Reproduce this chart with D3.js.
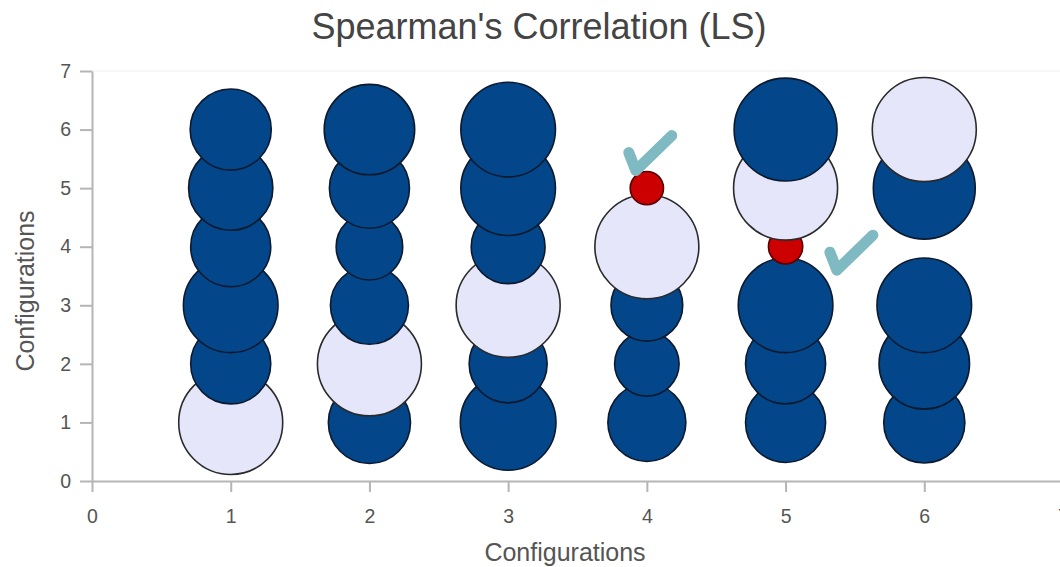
<!DOCTYPE html>
<html>
<head>
<meta charset="utf-8">
<script src="https://cdn.jsdelivr.net/npm/d3@7"></script>
<style>
  html, body { margin: 0; padding: 0; background: #fff; }
  svg { display: block; font-family: "Liberation Sans", Arial, sans-serif; }
</style>
</head>
<body>
<svg id="chart" width="1060" height="567"></svg>
<script>
// ---- data ----
const title = "Spearman's Correlation (LS)";
const xLabel = "Configurations";
const yLabel = "Configurations";
const xTicks = [0, 1, 2, 3, 4, 5, 6, 7];
const yTicks = [0, 1, 2, 3, 4, 5, 6, 7];

// bubble positions (config vs config), size value and kind
const bubbleX    = [1,1,1,1,1,1, 2,2,2,2,2,2, 3,3,3,3,3,3, 4,4,4,4,4, 5,5,5,5,5,5, 6,6,6,6,6];
const bubbleY    = [1,2,3,4,5,6, 1,2,3,4,5,6, 1,2,3,4,5,6, 1,2,3,4,5, 1,2,3,4,5,6, 1,2,3,5,6];
const bubbleSize = [1.00,0.77,0.91,0.77,0.81,0.78,
                    0.79,1.00,0.75,0.64,0.77,0.87,
                    0.92,0.75,1.00,0.71,0.91,0.91,
                    0.75,0.62,0.69,1.00,0.32,
                    0.77,0.77,0.91,0.33,1.00,0.99,
                    0.78,0.87,0.91,0.98,1.00];
const bubbleKind = ["diag","pos","pos","pos","pos","pos",
                    "pos","diag","pos","pos","pos","pos",
                    "pos","pos","diag","pos","pos","pos",
                    "pos","pos","pos","diag","neg",
                    "pos","pos","pos","neg","diag","pos",
                    "pos","pos","pos","pos","diag"];

// check-mark annotations (anchor in data units)
const checkX = [3.92, 5.37];
const checkY = [5.30, 3.60];

// ---- layout ----
const svg = d3.select("#chart");
const x = d3.scaleLinear().domain([0, 7]).range([92, 1063]);
const y = d3.scaleLinear().domain([0, 7]).range([481, 71]);
const r = d3.scaleLinear().domain([0, 1]).range([0, 52]);

const fillColor = { diag: "#e6e6fa", pos: "#03468a", neg: "#cc0000" };
const strokeColor = { diag: "#2a2a2a", pos: "#0d1a2e", neg: "#5a0000" };

// top frame line
svg.append("line")
  .attr("x1", x(0)).attr("x2", x(7))
  .attr("y1", y(7)).attr("y2", y(7))
  .attr("stroke", "#eeeeee").attr("stroke-width", 1);

// axes
const xAxis = svg.append("g")
  .attr("transform", `translate(0,${y(0)})`)
  .call(d3.axisBottom(x).tickValues(xTicks).tickFormat(d3.format("d")).tickSize(11).tickSizeOuter(0));
const yAxis = svg.append("g")
  .attr("transform", `translate(${x(0)},0)`)
  .call(d3.axisLeft(y).tickValues(yTicks).tickFormat(d3.format("d")).tickSize(12).tickSizeOuter(0));

[xAxis, yAxis].forEach(g => {
  g.attr("font-size", null).attr("font-family", null);
  g.select(".domain").attr("stroke", "#b5b5b5").attr("stroke-width", 2);
  g.selectAll(".tick line").attr("stroke", "#b5b5b5").attr("stroke-width", 2);
  g.selectAll(".tick text")
    .attr("fill", "#555")
    .style("font-size", "19.5px")
    .style("font-family", "'Liberation Sans', Arial, sans-serif");
});
xAxis.selectAll(".tick text").attr("dy", "0.71em").attr("y", 28);
yAxis.selectAll(".tick text").attr("x", -21);

// bubbles
const bubbles = bubbleX.map((bx, i) => ({
  x: bx, y: bubbleY[i], size: bubbleSize[i], kind: bubbleKind[i]
})).sort((a, b) => a.y - b.y);

svg.append("g").selectAll("circle")
  .data(bubbles)
  .join("circle")
  .attr("cx", d => x(d.x))
  .attr("cy", d => y(d.y))
  .attr("r", d => r(d.size))
  .attr("fill", d => fillColor[d.kind])
  .attr("stroke", d => strokeColor[d.kind])
  .attr("stroke-width", 1.6);

// check marks
svg.append("g").selectAll("path")
  .data(checkX.map((cx, i) => ({ x: cx, y: checkY[i] })))
  .join("path")
  .attr("d", d => {
    const px = x(d.x), py = y(d.y);
    return `M${px - 7},${py - 18} L${px},${py} L${px + 36},${py - 35}`;
  })
  .attr("fill", "none")
  .attr("stroke", "#7fbac3")
  .attr("stroke-width", 11)
  .attr("stroke-linecap", "round")
  .attr("stroke-linejoin", "round");

// title
svg.append("text")
  .attr("x", 539).attr("y", 39)
  .attr("text-anchor", "middle")
  .attr("fill", "#444")
  .style("font-size", "36px")
  .text(title);

// axis labels
svg.append("text")
  .attr("x", 565).attr("y", 561)
  .attr("text-anchor", "middle")
  .attr("fill", "#555")
  .style("font-size", "25px")
  .text(xLabel);

svg.append("text")
  .attr("transform", "translate(34,291) rotate(-90)")
  .attr("text-anchor", "middle")
  .attr("fill", "#555")
  .style("font-size", "25px")
  .text(yLabel);
</script>
</body>
</html>
